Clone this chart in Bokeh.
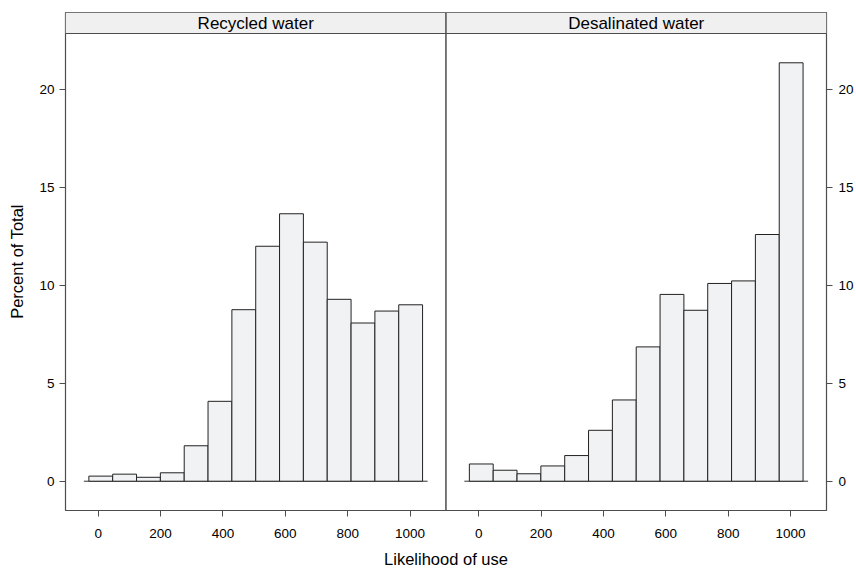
from bokeh.plotting import figure
from bokeh.models import (Range1d, LinearAxis, FixedTicker, Span, BoxAnnotation, Label)
from bokeh.embed import file_html
from bokeh.resources import INLINE

# ---- data ----
panels = ["Recycled water", "Desalinated water"]
bin_lo = -30.0
bin_hi = 1040.0
n_bins = 14
recycled = [0.26, 0.36, 0.20, 0.43, 1.81, 4.08, 8.76, 12.00, 13.66, 12.21, 9.29, 8.08, 8.69, 9.01]
desalinated = [0.88, 0.56, 0.38, 0.78, 1.31, 2.60, 4.15, 6.86, 9.54, 8.73, 10.10, 10.23, 12.60, 21.37]
x_ticks = [0, 200, 400, 600, 800, 1000]
y_ticks = [0, 5, 10, 15, 20]
x_label = "Likelihood of use"
y_label = "Percent of Total"

# ---- geometry ----
FONT = "Liberation Sans"
W, H = 856, 570
border_left, border_right, border_top, border_bottom = 65, 28, 12, 60
strip_px = 21
frame_h = H - border_top - border_bottom
panel_px = frame_h - strip_px

width = (bin_hi - bin_lo) / n_bins
edges = [bin_lo + i * width for i in range(n_bins + 1)]
span_x = bin_hi - bin_lo
xlim_lo = bin_lo - 0.07 * span_x
xlim_hi = bin_hi + 0.07 * span_x
offset = round(xlim_hi - xlim_lo)

M = max(max(recycled), max(desalinated))
ylim_lo = -0.07 * M
ylim_hi = 1.07 * M
units_per_px = (ylim_hi - ylim_lo) / panel_px
strip_top = ylim_hi + strip_px * units_per_px

p = figure(width=W, height=H, output_backend="svg", toolbar_location=None,
           x_range=Range1d(xlim_lo, xlim_lo + 2 * offset),
           y_range=Range1d(ylim_lo, strip_top),
           min_border_left=border_left, min_border_right=border_right,
           min_border_top=border_top, min_border_bottom=border_bottom,
           x_axis_location=None, y_axis_location=None)
p.xgrid.visible = False
p.ygrid.visible = False
p.outline_line_color = "#4d4d4d"
p.outline_line_width = 1.2
p.background_fill_color = "white"
p.border_fill_color = "white"

# strips
p.add_layout(BoxAnnotation(bottom=ylim_hi, fill_color="#f0f0f0", fill_alpha=1.0,
                           line_color=None, level="underlay"))
p.add_layout(Span(location=ylim_hi, dimension="width", line_color="#4d4d4d", line_width=1.2))
p.add_layout(Span(location=xlim_hi, dimension="height", line_color="#4d4d4d", line_width=1.5))

bar_color = "#f1f2f4"
ext = 0.015 * span_x
for k, (name, vals) in enumerate(zip(panels, [recycled, desalinated])):
    off = k * offset
    lefts = [e + off for e in edges[:-1]]
    rights = [e + off for e in edges[1:]]
    p.segment(x0=[bin_lo - ext + off], y0=[0], x1=[bin_hi + ext + off], y1=[0],
              line_color="#333333", line_width=1)
    p.quad(left=lefts, right=rights, bottom=[0] * n_bins, top=vals,
           fill_color=bar_color, line_color="#222222", line_width=1)
    p.add_layout(Label(x=(xlim_lo + xlim_hi) / 2 + off, y=(ylim_hi + strip_top) / 2,
                       text=name, text_align="center", text_baseline="middle",
                       text_font=FONT, text_font_size="17px", text_color="black"))


def style_axis(ax):
    ax.axis_line_color = None
    ax.major_tick_line_color = "#4d4d4d"
    ax.major_tick_in = 0
    ax.major_tick_out = 6
    ax.minor_tick_line_color = None
    ax.major_label_text_font = FONT
    ax.major_label_text_font_size = "13.5px"
    ax.major_label_text_color = "black"
    ax.axis_label_text_font = FONT
    ax.axis_label_text_font_size = "16.5px"
    ax.axis_label_text_font_style = "normal"
    ax.axis_label_text_color = "black"


# x axis (both panels share one axis; right panel ticks relabelled)
all_ticks = x_ticks + [t + offset for t in x_ticks]
xa = LinearAxis(ticker=FixedTicker(ticks=all_ticks), axis_label=x_label)
xa.major_label_overrides = {t + offset: str(t) for t in x_ticks}
style_axis(xa)
xa.major_label_standoff = 12
xa.axis_label_standoff = 9
p.add_layout(xa, "below")

ya = LinearAxis(ticker=FixedTicker(ticks=y_ticks), axis_label=y_label)
style_axis(ya)
ya.major_label_standoff = 5
ya.axis_label_standoff = 10
p.add_layout(ya, "left")

yr = LinearAxis(ticker=FixedTicker(ticks=y_ticks))
style_axis(yr)
yr.major_label_standoff = 6
p.add_layout(yr, "right")

open("out.html", "w").write(file_html(p, INLINE))
